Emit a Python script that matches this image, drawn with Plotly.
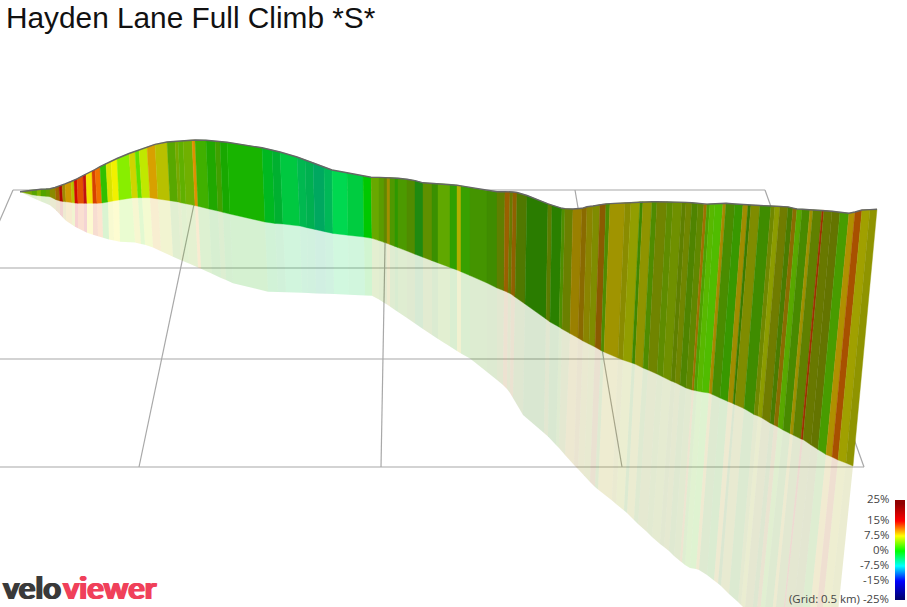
import plotly.graph_objects as go

title = "Hayden Lane Full Climb *S*"

x_top = [20,32,37,41,46,50,55,59,62,65,71,74,77,83,86,92,95,100,106,111,117,129,135,139,147,155,167,175,178,183,192,195,206,215,220,227,262,272,280,297,
305,313,324,332,347,363,371,379,384,387,390,395,398,407,415,423,432,438,450,457,461,470,487,497,505,510,513,517,527,548,552,562,565,573,582,587,593,600,606,610,625,631,640,643,652,657,667,673,682,686,692,698,704,707,710,715,723,726,735,743,748,751,760,771,775,780,788,793,797,802,810,813,822,824,832,840,849,855,862,870,877]
y_top = [191.7,190,189.7,189.2,189,188.7,187.5,186.3,185,183.9,181.5,180.3,178.8,175.7,174.3,171.2,169.5,166.7,163.7,161,158.5,153.5,151.3,150,147,144.4,142,141.4,141.2,140.8,140,140,140.3,141.1,141.6,142.3,147.8,150,152,157,
159.8,162.7,166.9,170,172.8,175.9,177.3,177.4,177.5,177.6,177.6,177.9,178.2,179.3,180.6,182.8,183.3,183.6,184.3,185.2,185.9,187.5,190.6,191.7,191.7,191.7,192,192.5,195.5,203.8,205.3,208.3,208.6,209,208.3,206.8,206,204.6,203.9,203.6,202.7,202.4,201.7,201.7,201.7,201.7,201.7,202,202.3,202.4,202.7,203.4,204.2,204.1,204,203.8,203.5,203.3,204,204.7,205,205.1,205.5,206,206.1,206.3,206.9,208.1,209,209.2,209.6,209.8,210.2,210.3,211.3,212.2,213.2,212,210,209.6,209.3]
x_base = [20,32,37,41,46,50,56,60,63,66,72,75,78,84,87,93,97,102,108,113,119,132,138,142,150,158,170,178,181,186,195,198,209,218,223,230,265,275,283,300,
307,315,325,333,348,364,372,379,384,387,390,395,398,407,415,423,432,438,450,457,461,470,487,497,504,508,511,515,525,546,550,559,562,570,578,583,589,595,601,604,618,623,632,635,643,648,657,663,671,675,680,686,692,694,697,702,709,712,720,728,733,735,744,754,758,762,770,774,778,783,790,793,801,803,811,818,826,832,838,846,853]
y_base = [191.7,194.8,195.4,195.9,196.3,196.7,199.7,201,201.4,201.8,202.6,203.1,203.3,203.3,203.3,203.3,203.3,203,201.9,201,200,197.9,197.7,197.7,197.7,199,200.7,201.9,202.8,203.8,205.6,206.2,209,211,212.3,214,222,223.4,224,226,
227.7,229.4,231.7,233.4,235.2,237,238.3,240.6,242.3,243.3,244.5,246.4,247.6,251,254.2,257.2,260.7,262.9,267.4,270,271.7,275.6,283,288,290.7,292.5,294,297,304,319,322,327,329,333.5,338,341,344,347,350.4,352,358,360,363,364,368,370,374,377,381,382.5,385,388,390,390.3,391,392,393,394.3,398,401.5,403.5,404.5,408.5,414.5,416,418,423,425,427,430,433.5,435,439,439.5,445,449.5,454.5,457,460,463,466]
x_shadow = [20,32,37,41,46,50,56,60,63,66,72,75,78,84,87,93,98,103,109,114,120,135,141,145,153,161,173,181,184,189,198,201,212,221,226,233,268,278,286,302,
308,316,326,334,349,365,372,379,384,387,390,395,398,407,415,423,432,438,450,457,461,470,487,497,503,507,510,513,523,544,548,556,559,565,574,578,584,590,595,598,612,616,624,627,634,638,647,652,660,664,669,674,680,682,685,690,696,699,707,714,718,721,729,738,741,745,752,756,759,763,770,773,780,781,789,797,804,810,815,822,829]
y_shadow = [192,197.5,199.7,201.5,203.5,205.2,210.3,214.6,217.8,220.7,224.7,226.7,228.2,231.3,232.8,234.8,236.3,237.8,239.4,240.5,241.7,242.6,244,244.8,247.4,251.2,256.7,260.2,261.5,263.6,267.4,268.8,273.8,277.9,280.1,283.3,291.7,292,292.2,292.8,
293,293.4,293.7,294,294.7,295.4,295.8,299.5,302.7,304.5,306.5,310,312,318,323.5,329,335,339,346.5,351,353.5,358.5,372,380,385,389,393,398,415,433,436.5,445,448,455,465,469,475.5,482,487,489.5,500.5,504,510.5,513,520,524,532,537,544,547,551,556,561,562.5,565,568,569,570,575,580.5,583.5,586,594,602,605,609,616,620,624,628,635,637,645,646,654,662,670,676,683,690,700]
strip_colors = ["#78a800","#58a400","#80b400","#50a400","#60a000","#8a8a00","#a06400","#b00a00","#a08800","#d09800","#b4c400","#d00800","#e25000","#c01010","#f2e400","#d54000","#f07000","#30c000","#d8e400","#f2f000","#88ee00","#d0d400","#60e000","#c0e800","#d8a000","#b8c000","#58a800","#78a800","#60b000","#70b000","#e09000","#40b000","#20a800","#40a000","#18a800","#18b400","#00b820","#00b030","#00c840",
"#00b850","#00b050","#00a860","#00b858","#00d850","#00cc40","#00c800","#68a800","#5a9c00","#608800","#a09000","#4f9800","#2f9800","#4c9a00","#508c00","#1f8a10","#5f9000","#3a9000","#60a800","#30a000","#b0b000","#38a000","#449400","#408c00","#607f00","#9a6000","#6a7a00","#906000","#507800","#2a7c00","#5c7c00","#2a8000","#4f8f00","#6a8000","#9a8000","#8a6a00","#8a8400","#7f8c00","#8a5a00","#4f8c00","#a09400","#8a8c00","#929e00","#3f8800","#8f9400","#4f8c00","#708400","#5f8c00","#6f9000","#5f8000","#708600","#4f8400","#608800","#a07000","#50a000","#58b800","#50bc00","#a88800","#4a8c00","#389800","#a08c00","#3a7c00","#7f8c00","#3f8c00","#708800","#8c9c00","#707c00","#4a7c00","#8a6c00","#58a800","#488a00","#a09000","#608000","#a03000","#687800","#647400","#489c00","#b09000","#a85000","#a0a000","#8f9400"]

grid_back_x = [13,197,386,575,765]
grid_front_x = [-107,139,381,622,864]
grid_rows_y = [190,268,359,467]
grid_rows_left = [13,-80,-80,-80]
grid_rows_right = [765,793,825,864]

legend_labels = ["25%","15%","7.5%","0%","-7.5%","-15%","(Grid: 0.5 km) -25%"]
legend_y = [498,519,534,549,564,579,598]
legend_bar_y = [502.5,507.5,512.5,517.5,522.5,527.5,532.5,537.5,542.5,547.5,552.5,557.5,562.5,567.5,572.5,577.5,582.5,587.5,592.5,597.5]
legend_bar_z = [23.75,21.25,18.75,16.25,13.75,11.25,8.75,6.25,3.75,1.25,-1.25,-3.75,-6.25,-8.75,-11.25,-13.75,-16.25,-18.75,-21.25,-23.75]

assert len(x_top)==len(y_top)==len(x_base)==len(y_base)==len(x_shadow)==len(y_shadow)==len(strip_colors)+1

def rgba(h, a):
    return f"rgba({int(h[1:3],16)},{int(h[3:5],16)},{int(h[5:7],16)},{a})"

fig = go.Figure()
GRID = "#a8a8a8"
for a, b in zip(grid_back_x, grid_front_x):
    fig.add_trace(go.Scatter(x=[a,b], y=[grid_rows_y[0],grid_rows_y[-1]], mode="lines", line=dict(color=GRID,width=1.2), hoverinfo="skip"))
for y, l, r in zip(grid_rows_y, grid_rows_left, grid_rows_right):
    fig.add_trace(go.Scatter(x=[l,r], y=[y,y], mode="lines", line=dict(color=GRID,width=1.2), hoverinfo="skip"))

for i, c in enumerate(strip_colors):
    fig.add_trace(go.Scatter(
        x=[x_base[i],x_base[i+1],x_shadow[i+1],x_shadow[i],x_base[i]],
        y=[y_base[i],y_base[i+1],y_shadow[i+1],y_shadow[i],y_base[i]],
        mode="lines", fill="toself", fillcolor=rgba(c,0.18), line=dict(width=0), hoverinfo="skip"))
for i, c in enumerate(strip_colors):
    fig.add_trace(go.Scatter(
        x=[x_top[i],x_top[i+1],x_base[i+1],x_base[i],x_top[i]],
        y=[y_top[i],y_top[i+1],y_base[i+1],y_base[i],y_top[i]],
        mode="lines", fill="toself", fillcolor=c, line=dict(color=c,width=0.4), hoverinfo="skip"))
fig.add_trace(go.Scatter(x=x_top, y=y_top, mode="lines", line=dict(color="#666666",width=1.4), hoverinfo="skip"))

fig.add_trace(go.Heatmap(
    x=[897.5,902.5], y=legend_bar_y, z=[[v,v] for v in legend_bar_z], zmin=-25, zmax=25, showscale=False, hoverinfo="skip", zsmooth="best",
    colorscale=[[0,"#000060"],[0.2,"#0000ff"],[0.35,"#00ffff"],[0.5,"#00ff00"],[0.65,"#ffff00"],[0.8,"#ff0000"],[1,"#800000"]]))

for y, t in zip(legend_y, legend_labels):
    fig.add_annotation(x=891, y=y, text=t, showarrow=False, xanchor="right", yanchor="middle",
                       font=dict(family="Open Sans", size=11.4, color="#444444"))

fig.add_annotation(x=4, y=17, text=title, showarrow=False, xanchor="left", yanchor="middle",
                   font=dict(family="Liberation Sans", size=29.8, color="#111111"))
fig.add_annotation(x=1, y=587, text="velo", showarrow=False, xanchor="left", yanchor="middle",
                   font=dict(family="Lato", size=31, color="#3a3a3a", weight=700, shadow="1px 0 0 #3a3a3a, -1px 0 0 #3a3a3a"))
fig.add_annotation(x=61, y=587, text="viewer", showarrow=False, xanchor="left", yanchor="middle",
                   font=dict(family="Lato", size=31, color="#f0405a", weight=700, shadow="1px 0 0 #f0405a, -1px 0 0 #f0405a"))

fig.update_layout(
    width=907, height=607, margin=dict(l=0,r=0,t=0,b=0), showlegend=False,
    paper_bgcolor="white", plot_bgcolor="white",
    xaxis=dict(range=[0,907], visible=False, fixedrange=True),
    yaxis=dict(range=[607,0], visible=False, fixedrange=True),
)
fig.write_html("out.html", config=dict(displayModeBar=False),
               post_script="document.body.style.margin='0';document.documentElement.style.overflow='hidden';")
